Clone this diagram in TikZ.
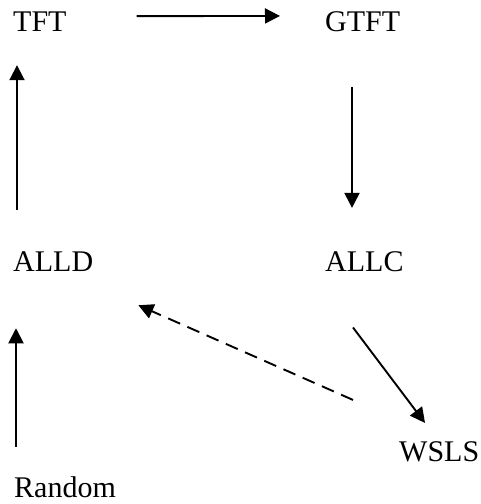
\documentclass[tikz,border=0pt]{standalone}
\usepackage{fontspec}
\setmainfont{Liberation Serif}
\usetikzlibrary{arrows.meta}
\tikzset{
  label/.style={inner sep=0pt, anchor=base west, font=\fontsize{30}{36}\selectfont},
  arr/.style={line width=1.9pt, -{Triangle[length=15pt,width=15pt]}},
  dasharr/.style={arr, dash pattern=on 13pt off 8pt},
}
\begin{document}
\begin{tikzpicture}[x=1pt,y=1pt]
  \useasboundingbox (0,0) rectangle (481,504);
  \node[label] (TFT)    at (13,472) {TFT};
  \node[label] (GTFT)   at (325,472) {GTFT};
  \node[label] (ALLD)   at (13,232) {ALLD};
  \node[label] (ALLC)   at (325,232) {ALLC};
  \node[label] (WSLS)   at (399,42) {WSLS};
  \node[label] (Random) at (14,6) {Random};

  \draw[arr] ([xshift=70pt,yshift=-4pt]TFT.north east) -- ([xshift=-45pt,yshift=-4pt]GTFT.north west);
  \draw[arr] ([xshift=27pt,yshift=-55pt]GTFT.south west) -- ([xshift=27pt,yshift=44pt]ALLC.north west);
  \draw[arr] ([xshift=4pt,yshift=42pt]ALLD.north west) -- ([xshift=4pt,yshift=-33pt]TFT.south west);
  \draw[arr] ([xshift=2pt,yshift=30pt]Random.north west) -- ([xshift=3pt,yshift=-56pt]ALLD.south west);
  \draw[arr] ([xshift=28pt,yshift=-55pt]ALLC.south west) -- ([xshift=26pt,yshift=19pt]WSLS.north west);
  \draw[dasharr] ([xshift=-46pt,yshift=42pt]WSLS.north west) -- ([xshift=45pt,yshift=-33pt]ALLD.south east);
\end{tikzpicture}
\end{document}
